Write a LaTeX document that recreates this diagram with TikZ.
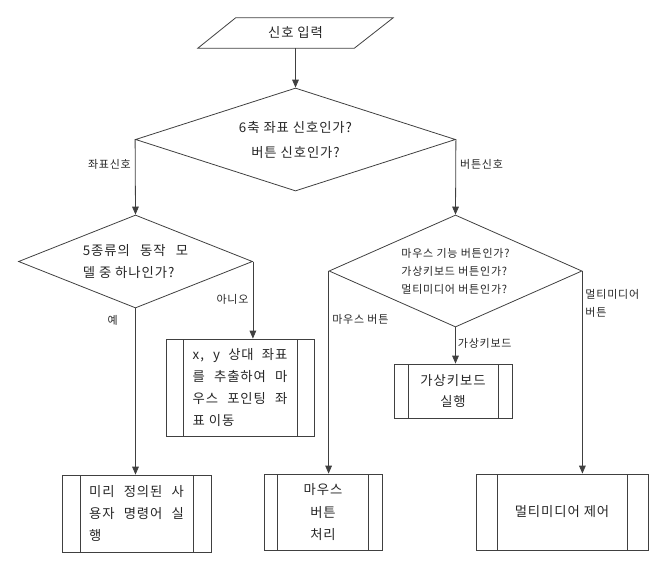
\documentclass[tikz,border=0pt]{standalone}
\usepackage{fontspec}
\usetikzlibrary{arrows.meta,shapes.geometric}
\newfontfamily\kofont[LetterSpace=7]{Noto Sans CJK KR}
\definecolor{lineclr}{HTML}{404040}

\begin{document}
\begin{tikzpicture}[
  x=0.75pt, y=-0.75pt,
  every node/.style={font=\kofont\fontsize{10pt}{16.5pt}\selectfont, text=black!85},
  io/.style={minimum width=146.25pt, minimum height=22.5pt, inner sep=0pt},
  dec/.style={draw=lineclr, line width=0.6pt, diamond, inner sep=0pt, align=#1},
  dec/.default=center,
  proc/.style={draw=lineclr, line width=0.6pt, inner sep=0pt, align=center, path picture={
    \draw[lineclr, line width=0.6pt] ([xshift=#1]path picture bounding box.north west) -- ([xshift=#1]path picture bounding box.south west)
      ([xshift=-#1]path picture bounding box.north east) -- ([xshift=-#1]path picture bounding box.south east);}},
  lbl/.style={font=\kofont\fontsize{8.25pt}{13.5pt}\selectfont, inner sep=0pt, align=left},
  arr/.style={draw=lineclr, line width=0.6pt, -{Triangle[length=6pt,width=5pt]}},
]
  \useasboundingbox (0,0) rectangle (663,565);

  \node[io] (inp) at (295.5,33) {신호 입력};
  \draw[lineclr, line width=0.6pt] ([xshift=28.5pt]inp.north west) -- (inp.north east) -- ([xshift=-29.25pt]inp.south east) -- (inp.south west) -- cycle;
  \node[dec, aspect=3.1, minimum width=240pt, minimum height=77.25pt, font=\kofont\fontsize{10pt}{18.75pt}\selectfont] (sig) at (295.5,139.5) {6축 좌표 신호인가?\\버튼 신호인가?};
  \node[dec=left, aspect=2.52, minimum width=175.5pt, minimum height=69.75pt] (model) at (135.5,261.5) {\makebox[79pt][s]{5종류의 동작 모}\\델 중 하나인가?};
  \node[dec=left, aspect=2.26, minimum width=189.75pt, minimum height=84pt, font=\kofont\fontsize{8.25pt}{13.5pt}\selectfont] (btn) at (455.5,271) {마우스 기능 버튼인가?\\가상키보드 버튼인가?\\멀티미디어 버튼인가?};

  \node[proc=12.75pt, minimum width=111pt, minimum height=72.75pt, align=left] (movebox) at (240,387.5) {\makebox[71pt][s]{x, y 상대 좌표}\\\makebox[71pt][s]{를 추출하여 마}\\\makebox[71pt][s]{우스 포인팅 좌}\\표 이동};
  \node[proc=10.5pt, minimum width=88.5pt, minimum height=40.5pt, font=\kofont\fontsize{10pt}{15.75pt}\selectfont] (kbdbox) at (453,391) {가상키보드\\실행};
  \node[proc=13.5pt, minimum width=111.75pt, minimum height=57.75pt, align=left] (macrobox) at (136.5,513.5) {\makebox[71pt][s]{미리 정의된 사}\\\makebox[71pt][s]{용자 명령어 실}\\행};
  \node[proc=10pt, minimum width=88.5pt, minimum height=57pt] (mousebox) at (323,512) {마우스\\버튼\\처리};
  \node[proc=15.75pt, minimum width=129pt, minimum height=57pt] (mediabox) at (562,512) {멀티미디어 제어};

  \draw[arr] (inp.south) -- (sig.north);
  \draw[arr] (sig.west) -- node[lbl, pos=0.33, left=3pt] {좌표신호} (model.north);
  \draw[arr] (sig.east) -- node[lbl, pos=0.33, right=3pt] {버튼신호} (btn.north);
  \draw[arr] (model.east) -- node[lbl, pos=0.49, left=3pt] {아니오} (model.east |- movebox.north);
  \draw[arr] (model.south) -- node[lbl, pos=0.07, left=13pt] {예} (model.south |- macrobox.north);
  \draw[arr] (btn.west) -- node[lbl, pos=0.24, right=2.5pt] {마우스 버튼} (btn.west |- mousebox.north);
  \draw[arr] (btn.south) -- node[lbl, pos=0.43, right=1.5pt] {가상키보드} (btn.south |- kbdbox.north);
  \draw[arr] (btn.east) -- node[lbl, pos=0.16, right=2pt] {멀티미디어\\버튼} (btn.east |- mediabox.north);
\end{tikzpicture}
\end{document}
